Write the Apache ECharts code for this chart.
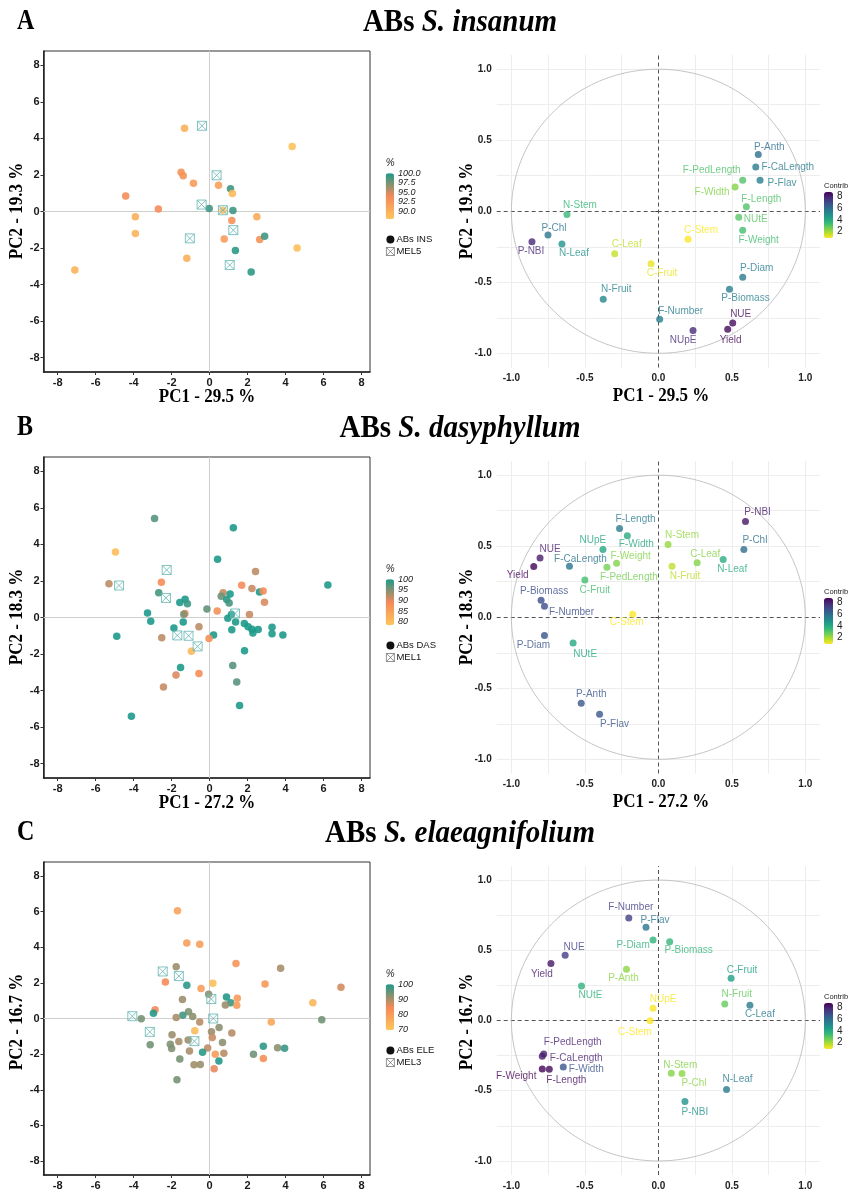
<!DOCTYPE html>
<html><head><meta charset="utf-8">
<script src="https://cdn.jsdelivr.net/npm/echarts@6/dist/echarts.min.js"></script>
<style>html,body{margin:0;padding:0;background:#fff}#c{width:848px;height:1191px}</style>
</head><body><div id="c"></div><script>
// ================= DATA =================
// Panel A — S. insanum individuals (PC1, PC2, %)
const insPC1 = [-1.32, 4.35, -1.50, -1.39, -0.85, 0.47, 1.10, 1.20, -4.42, -2.70,
                -0.02, 0.70, 1.23, -3.91, 2.49, 1.17, -3.91, 0.77, 2.64, 2.90,
                4.61, 1.36, -1.20, 2.19, -7.10];
const insPC2 = [4.56, 3.55, 2.15, 1.96, 1.55, 1.44, 1.25, 0.98, 0.85, 0.13,
                0.16, 0.07, 0.05, -0.29, -0.29, -0.49, -1.20, -1.51, -1.53, -1.36,
                -2.00, -2.13, -2.56, -3.31, -3.20];
const insPct = [90, 88.2, 93, 93, 92, 91.5, 99, 89, 93.5, 93.5,
                99, 89, 99, 90, 90.5, 93, 89.5, 92, 93, 99,
                88.5, 99.5, 90, 99.5, 89.5];
const mel5PC1 = [-0.40, 0.37, -0.42, 0.70, 1.25, -1.04, 1.06];
const mel5PC2 = [4.69, 1.98, 0.38, 0.07, -1.02, -1.47, -2.93];

// Panel B — S. dasyphyllum individuals
const dasPC1 = [-2.90, 1.25, -4.96, 0.42, 2.42, -5.30, -2.54, 1.69, 2.23, 6.23,
                -2.68, 0.71, 1.08, 2.63, 2.82, 2.89, 0.61, 0.90, 1.03, -1.57,
                -1.29, -1.17, -0.14, -3.27, -1.30, -1.36, 0.40, 2.10, 1.15, 0.96,
                -3.10, -1.39, 1.37, 1.83, 2.03, 2.23, 2.56, 2.28, 3.29, 3.29,
                3.86, 1.17, -1.88, -0.56, 0.21, -0.03, -2.52, -4.89, -0.96, 1.84,
                -1.53, 1.22, -1.77, -0.56, 1.43, -2.43, 1.58, -4.12];
const dasPC2 = [5.42, 4.91, 3.58, 3.18, 2.51, 1.85, 1.93, 1.76, 1.58, 1.78,
                1.36, 1.36, 1.29, 1.40, 1.45, 0.84, 1.16, 0.98, 0.80, 0.82,
                1.00, 0.75, 0.47, 0.24, 0.22, 0.18, 0.35, 0.16, 0.16, -0.04,
                -0.20, -0.24, -0.24, -0.33, -0.51, -0.64, -0.65, -0.85, -0.53, -0.89,
                -0.96, -0.67, -0.58, -0.51, -0.96, -1.15, -1.11, -1.02, -1.85, -1.82,
                -2.73, -2.62, -3.15, -3.07, -3.53, -3.80, -4.82, -5.40];
const dasPct = [97, 100, 80, 100, 92, 92, 88.5, 88.5, 91.5, 100,
                98, 91.5, 100, 100, 88.5, 90.5, 96, 99.5, 98, 100,
                100, 98.5, 96.5, 100, 88.5, 95, 88, 91.5, 100, 100,
                100, 100, 100, 100, 100, 100, 100, 100, 100, 100,
                100, 100, 100, 92, 100, 88, 92, 100, 80.5, 100,
                100, 97, 90.5, 88.5, 97, 91.5, 100, 100];
const mel1PC1 = [-2.26, -4.77, -2.30, 1.34, -1.70, -1.11, -0.63];
const mel1PC2 = [2.60, 1.75, 1.07, 0.22, -0.98, -1.00, -1.58];

// Panel C — S. elaeagnifolium individuals
const elePC1 = [-1.69, -1.20, -0.52, 1.39, -1.76, 3.74, -2.33, -1.20, 0.17, -0.45,
                2.92, 6.92, -0.05, 0.89, -1.43, 1.11, 0.83, 1.46, 1.43, 5.44,
                -2.87, -2.96, -1.11, -1.41, -0.89, -1.76, -3.60, -0.52, 5.91, 3.25,
                -0.78, 0.10, 0.50, 1.17, 0.14, -1.98, -1.62, -1.13, -2.07, 0.68,
                -3.13, -2.00, -1.06, -0.10, -0.37, 0.75, 0.30, 2.83, 3.58, 3.95,
                2.31, 2.83, -1.57, 0.49, -0.82, -0.49, 0.24, -1.72];
const elePC2 = [6.04, 4.24, 4.16, 3.09, 2.91, 2.82, 2.05, 1.87, 1.98, 1.69,
                1.93, 1.76, 1.36, 1.20, 1.07, 0.89, 0.76, 1.13, 0.75, 0.89,
                0.49, 0.29, 0.38, 0.18, 0.11, 0.05, -0.02, -0.20, -0.07, -0.20,
                -0.69, -0.75, -0.51, -0.82, -1.07, -0.91, -1.29, -1.20, -1.44, -1.35,
                -1.47, -1.69, -1.82, -1.65, -1.89, -1.95, -2.00, -1.56, -1.64, -1.67,
                -2.00, -2.25, -2.27, -2.38, -2.60, -2.58, -2.82, -3.44];
const elePct = [78, 79, 79, 82, 91, 90, 84, 99, 71, 79,
                81, 87, 92, 99.5, 91, 98, 91, 80, 80, 73,
                84, 99.5, 93, 97.5, 92, 90, 93.5, 89, 94, 77,
                72, 91, 92, 89, 88, 91, 90, 91, 93, 92,
                94, 93, 90, 88.5, 99, 89, 80, 99, 92, 98,
                94, 83, 93.5, 99.5, 90.5, 91, 85.5, 93.5];
const mel3PC1 = [-2.47, -1.62, 0.09, -4.07, 0.19, -3.15, -0.80];
const mel3PC2 = [2.64, 2.38, 1.09, 0.13, 0.00, -0.75, -1.27];

// Variables (correlation circles)
const varsA = ["P-Anth","F-CaLength","P-Flav","F-PedLength","F-Width","F-Length","NUtE","F-Weight","C-Stem","N-Stem","P-Chl",
               "P-NBI","N-Leaf","C-Leaf","C-Fruit","P-Diam","P-Biomass","N-Fruit","F-Number","NUpE","NUE","Yield"];
const varPC1A = [0.680, 0.663, 0.692, 0.574, 0.522, 0.599, 0.547, 0.574, 0.202, -0.622, -0.751,
                 -0.860, -0.656, -0.297, -0.050, 0.574, 0.484, -0.375, 0.009, 0.236, 0.506, 0.472];
const varPC2A = [0.400, 0.312, 0.218, 0.218, 0.171, 0.031, -0.042, -0.134, -0.197, -0.023, -0.167,
                 -0.214, -0.230, -0.300, -0.369, -0.465, -0.549, -0.620, -0.760, -0.840, -0.786, -0.831];
const contribA = [5.9, 5.5, 5.3, 3.1, 2.4, 3.1, 3.0, 3.3, 0.9, 3.5, 5.7,
                  7.8, 4.7, 1.6, 1.2, 5.5, 5.3, 5.1, 5.4, 7.7, 8.4, 8.5];

const varsB = ["P-NBI","P-Chl","N-Leaf","C-Leaf","N-Fruit","N-Stem","F-Length","F-Width","NUpE","F-Weight","F-PedLength",
               "F-CaLength","C-Fruit","NUE","Yield","P-Biomass","F-Number","C-Stem","P-Diam","NUtE","P-Anth","P-Flav"];
const varPC1B = [0.593, 0.582, 0.441, 0.264, 0.093, 0.066, -0.264, -0.211, -0.377, -0.284, -0.350,
                 -0.605, -0.500, -0.805, -0.848, -0.798, -0.775, -0.175, -0.775, -0.580, -0.525, -0.400];
const varPC2B = [0.674, 0.477, 0.406, 0.383, 0.359, 0.512, 0.624, 0.573, 0.477, 0.380, 0.352,
                 0.359, 0.263, 0.418, 0.357, 0.120, 0.077, 0.021, -0.129, -0.181, -0.606, -0.683];
const contribB = [8.2, 5.9, 3.9, 2.4, 1.7, 2.2, 5.5, 4.0, 4.1, 2.4, 2.6,
                  5.7, 3.3, 8.1, 8.6, 6.8, 6.8, 0.9, 6.7, 4.1, 6.6, 6.6];

const varsC = ["F-Number","P-Flav","P-Diam","P-Biomass","NUE","Yield","P-Anth","NUtE","C-Fruit","N-Fruit","C-Leaf",
               "NUpE","C-Stem","F-PedLength","F-CaLength","F-Weight","F-Length","F-Width","N-Stem","P-Chl","N-Leaf","P-NBI"];
const varPC1C = [-0.201, -0.084, -0.036, 0.077, -0.634, -0.731, -0.217, -0.523, 0.495, 0.452, 0.623,
                 -0.036, -0.057, -0.780, -0.790, -0.790, -0.742, -0.647, 0.088, 0.161, 0.464, 0.181];
const varPC2C = [0.730, 0.664, 0.573, 0.561, 0.465, 0.406, 0.364, 0.246, 0.300, 0.117, 0.108,
                 0.087, -0.002, -0.239, -0.254, -0.345, -0.347, -0.331, -0.376, -0.378, -0.491, -0.577];
const contribC = [7.2, 5.7, 3.7, 3.6, 7.2, 8.2, 2.3, 3.7, 4.3, 2.8, 5.5,
                  1.0, 0.9, 8.0, 8.0, 8.6, 8.4, 6.6, 2.4, 2.3, 5.5, 4.7];

// Tick labels
const indTicks = [-8, -6, -4, -2, 0, 2, 4, 6, 8];
const varTicks = [-1, -0.5, 0, 0.5, 1];
const pctTicksA = [100, 97.5, 95, 92.5, 90];
const pctTicksB = [100, 95, 90, 85, 80];
const pctTicksC = [100, 90, 80, 70];
const contribTicks = [8, 6, 4, 2];

// ================= LAYOUT / STYLE (not data) =================
const nudgeA = {"P-Anth":[11,-7],"F-CaLength":[32,0],"P-Flav":[22,3],"F-PedLength":[-31,-10],"F-Width":[-23,5],
  "F-Length":[15,-8],"NUtE":[17,2],"F-Weight":[16,10],"C-Stem":[13,-9],"N-Stem":[13,-9],"P-Chl":[6,-7],
  "P-NBI":[-1,10],"N-Leaf":[12,9],"C-Leaf":[12,-10],"C-Fruit":[11,10],"P-Diam":[14,-9],"P-Biomass":[16,9],
  "N-Fruit":[13,-10],"F-Number":[21,-8],"NUpE":[-10,10],"NUE":[8,-9],"Yield":[3,11]};
const nudgeB = {"P-NBI":[12,-9],"P-Chl":[11,-9],"N-Leaf":[9,10],"C-Leaf":[8,-9],"N-Fruit":[13,10],"N-Stem":[14,-9],
  "F-Length":[16,-9],"F-Width":[9,8],"NUpE":[-10,-9],"F-Weight":[14,-7],"F-PedLength":[22,10],"F-CaLength":[11,-7],
  "C-Fruit":[10,10],"NUE":[10,-9],"Yield":[-16,9],"P-Biomass":[3,-9],"F-Number":[27,6],"C-Stem":[-6,8],
  "P-Diam":[-11,10],"NUtE":[12,11],"P-Anth":[10,-9],"P-Flav":[15,10]};
const nudgeC = {"F-Number":[2,-11],"P-Flav":[9,-7],"P-Diam":[-20,5],"P-Biomass":[19,9],"NUE":[9,-8],"Yield":[-9,11],
  "P-Anth":[-3,9],"NUtE":[9,9],"C-Fruit":[11,-8],"N-Fruit":[12,-10],"C-Leaf":[10,9],"NUpE":[10,-9],"C-Stem":[-15,11],
  "F-PedLength":[29,-12],"F-CaLength":[34,2],"F-Weight":[-26,7],"F-Length":[17,11],"F-Width":[23,2],"N-Stem":[9,-8],
  "P-Chl":[12,10],"N-Leaf":[11,-10],"P-NBI":[10,11]};

const panels = [
  {letter:'A', sp:'S. insanum', pc1:'29.5', pc2:'19.3', abs:'ABs INS', mel:'MEL5',
   ix:insPC1, iy:insPC2, ip:insPct, mx:mel5PC1, my:mel5PC2, pmin:87.8, pmax:100, pt:pctTicksA, pd:1,
   vn:varsA, vx:varPC1A, vy:varPC2A, vc:contribA, nudge:nudgeA, xt:true},
  {letter:'B', sp:'S. dasyphyllum', pc1:'27.2', pc2:'18.3', abs:'ABs DAS', mel:'MEL1',
   ix:dasPC1, iy:dasPC2, ip:dasPct, mx:mel1PC1, my:mel1PC2, pmin:78.4, pmax:100, pt:pctTicksB, pd:0,
   vn:varsB, vx:varPC1B, vy:varPC2B, vc:contribB, nudge:nudgeB, xt:true},
  {letter:'C', sp:'S. elaeagnifolium', pc1:'', pc2:'16.7', abs:'ABs ELE', mel:'MEL3',
   ix:elePC1, iy:elePC2, ip:elePct, mx:mel3PC1, my:mel3PC2, pmin:69.3, pmax:100, pt:pctTicksC, pd:0,
   vn:varsC, vx:varPC1C, vy:varPC2C, vc:contribC, nudge:nudgeC, xt:false}
];
const offs = [0, 406, 811];
const LG = {left:43.5, top:51, width:326.5, height:321};
const RG = {left:496.7, top:55, width:323.3, height:312.5};
const pctColors = ['#fdc65c', '#f4895a', '#1d9a8a'];
const viridisLowToHigh = ['#fde725','#b5de2b','#6ece58','#35b779','#1f9e89','#26828e','#31688e','#3e4989','#482878','#440154'];
const cMin = 0.94, cMax = 8.67;
const melIcon = 'path://M0,0L10,0L10,10L0,10ZM0,0L10,10M10,0L0,10';
const serif = '"Liberation Serif", "DejaVu Serif", serif';
const sans = '"Liberation Sans", Arial, sans-serif';

const grid = [], xAxis = [], yAxis = [], series = [], visualMap = [], legend = [], graphic = [];
const varSeriesIdx = [];

const circle = [];
for (let i = 0; i <= 240; i++) { const a = i / 240 * 2 * Math.PI; circle.push([Math.cos(a), Math.sin(a)]); }
const gridVals = [-1, -0.75, -0.5, -0.25, 0.25, 0.5, 0.75, 1];

function txt(x, y, text, font, opts) {
  return Object.assign({type:'text', x:x, y:y, silent:true,
    style:Object.assign({text:text, font:font, fill:'#000', align:'center', verticalAlign:'middle'}, (opts && opts.style) || {})},
    (opts && opts.el) || {});
}

panels.forEach((P, p) => {
  const o = offs[p];
  const gL = 2 * p, gR = 2 * p + 1;
  grid.push({left:LG.left, top:LG.top + o, width:LG.width, height:LG.height, show:true,
             borderColor:'#333', borderWidth:1, backgroundColor:'#fff'});
  grid.push({left:RG.left, top:RG.top + o, width:RG.width, height:RG.height, show:false});
  const lblL = {customValues:indTicks, fontSize:11, fontWeight:'bold', color:'#1a1a1a', fontFamily:sans, margin:5};
  xAxis.push({gridIndex:gL, type:'value', min:-8.75, max:8.45,
    axisLine:{show:true, onZero:false, lineStyle:{color:'#222', width:1.5}},
    axisTick:{show:true, customValues:indTicks, length:3, lineStyle:{color:'#333'}},
    axisLabel:lblL, splitLine:{show:false}});
  yAxis.push({gridIndex:gL, type:'value', min:-8.78, max:8.78,
    axisLine:{show:true, onZero:false, lineStyle:{color:'#222', width:1.5}},
    axisTick:{show:true, customValues:indTicks, length:3, lineStyle:{color:'#333'}},
    axisLabel:Object.assign({}, lblL, {margin:4}), splitLine:{show:false}});
  const lblR = {customValues:varTicks, fontSize:10, fontWeight:'bold', color:'#222', fontFamily:sans, margin:6,
                formatter:v => Number(v).toFixed(1)};
  xAxis.push({gridIndex:gR, type:'value', min:-1.1, max:1.1, axisLine:{show:false},
    axisTick:{show:false}, axisLabel:lblR, splitLine:{show:false}});
  yAxis.push({gridIndex:gR, type:'value', min:-1.1, max:1.1, axisLine:{show:false},
    axisTick:{show:true, customValues:varTicks, length:3, lineStyle:{color:'#333'}},
    axisLabel:Object.assign({}, lblR, {margin:5}), splitLine:{show:false}});

  // individuals
  const absIdx = series.length;
  series.push({type:'scatter', name:P.abs, xAxisIndex:gL, yAxisIndex:gL, z:3, silent:true,
    symbol:'circle', symbolSize:7.5, itemStyle:{opacity:0.9},
    data:P.ix.map((x, i) => [x, P.iy[i], P.ip[i]]),
    markLine:{silent:true, symbol:'none', z:1, label:{show:false},
      lineStyle:{color:'#cfcfcf', width:1, type:'solid'}, data:[{xAxis:0}, {yAxis:0}]}});
  series.push({type:'scatter', name:P.mel, xAxisIndex:gL, yAxisIndex:gL, z:4, silent:true,
    symbol:melIcon, symbolSize:9,
    itemStyle:{color:'rgba(255,255,255,0.15)', borderColor:'#63b5b2', borderWidth:1},
    data:P.mx.map((x, i) => [x, P.my[i]])});
  visualMap.push({type:'continuous', seriesIndex:absIdx, dimension:2, min:P.pmin, max:P.pmax,
    calculable:false, realtime:false, hoverLink:false, left:385.7, top:173.3 + o, itemWidth:8.3, itemHeight:46,
    padding:0, text:null, showLabel:false, inRange:{color:pctColors}});
  legend.push({orient:'vertical', left:386, top:234.5 + o, itemWidth:8, itemHeight:8, itemGap:2, padding:0,
    selectedMode:false, textStyle:{fontSize:9.5, fontFamily:sans, color:'#111', padding:[0,0,0,-3]},
    data:[{name:P.abs, icon:'circle', itemStyle:{color:'#111', opacity:1}},
          {name:P.mel, icon:melIcon, itemStyle:{color:'rgba(0,0,0,0)', borderColor:'#555', borderWidth:0.8}}]});
  graphic.push(txt(385.7, 163 + o, '%', 'italic 10px ' + sans, {style:{align:'left', fill:'#222'}}));
  P.pt.forEach(v => {
    const y = 173.3 + o + (P.pmax - v) / (P.pmax - P.pmin) * 46;
    graphic.push(txt(398, y, v.toFixed(P.pd), 'italic 9px ' + sans, {style:{align:'left', fill:'#222'}}));
  });

  // variables
  const gl = gridVals.map(v => ({xAxis:v})).concat(gridVals.map(v => ({yAxis:v})));
  const zl = [{xAxis:0, lineStyle:{color:'#555', width:1, type:[4, 3]}},
              {yAxis:0, lineStyle:{color:'#555', width:1, type:[4, 3]}}];
  series.push({type:'line', xAxisIndex:gR, yAxisIndex:gR, data:circle, showSymbol:false, silent:true, z:2,
    lineStyle:{color:'#bdbdbd', width:0.9}, animation:false,
    markLine:{silent:true, symbol:'none', z:1, label:{show:false}, animation:false,
      lineStyle:{color:'#ededed', width:1, type:'solid'}, data:gl.concat(zl)}});
  const varIdx = series.length;
  varSeriesIdx.push(varIdx);
  series.push({type:'scatter', xAxisIndex:gR, yAxisIndex:gR, z:3, silent:true, symbolSize:7,
    label:{show:true, position:'top', distance:0, formatter:'{b}', fontSize:10, lineHeight:12, fontFamily:sans,
           color:'inherit'},
    data:P.vn.map((n, i) => ({name:n, value:[P.vx[i], P.vy[i], P.vc[i]],
      label:{offset:[P.nudge[n][0], P.nudge[n][1] + 9.5]}}))});
  visualMap.push({type:'continuous', seriesIndex:varIdx, dimension:2, min:cMin, max:cMax,
    calculable:false, realtime:false, hoverLink:false, left:824, top:192 + o, itemWidth:9, itemHeight:46,
    padding:0, text:null, showLabel:false, inRange:{color:viridisLowToHigh}});
  graphic.push(txt(824, 186 + o, 'Contrib', '7.5px ' + sans, {style:{align:'left', fill:'#222'}}));
  contribTicks.forEach(v => {
    const y = 192 + o + (cMax - v) / (cMax - cMin) * 46;
    graphic.push(txt(837, y, String(v), '10px ' + sans, {style:{align:'left', fill:'#222'}}));
  });

  // titles
  graphic.push(txt(17, 21 + o, P.letter, 'bold 24px ' + serif, {style:{align:'left'}, el:{scaleY:1.25}}));
  graphic.push({type:'text', x:460, y:23 + o, silent:true, scaleY:1.12,
    style:{text:'{a|ABs }{b|' + P.sp + '}', align:'center', verticalAlign:'middle',
      rich:{a:{font:'bold 29px ' + serif, fill:'#000'}, b:{font:'italic bold 29px ' + serif, fill:'#000'}}}});
  graphic.push(txt(17, 211 + o, 'PC2 - ' + P.pc2 + ' %', 'bold 17px ' + serif, {el:{rotation:Math.PI / 2, scaleY:1.12}}));
  graphic.push(txt(467, 211 + o, 'PC2 - ' + P.pc2 + ' %', 'bold 17px ' + serif, {el:{rotation:Math.PI / 2, scaleY:1.12}}));
  if (P.xt) {
    graphic.push(txt(207, 397 + o, 'PC1 - ' + P.pc1 + ' %', 'bold 17px ' + serif, {el:{scaleY:1.1}}));
    graphic.push(txt(661, 396 + o, 'PC1 - ' + P.pc1 + ' %', 'bold 17px ' + serif, {el:{scaleY:1.1}}));
  }
});

const chart = echarts.init(document.getElementById('c'), null, {renderer:'canvas', width:848, height:1191});
chart.setOption({backgroundColor:'#fff', animation:false, grid, xAxis, yAxis, series, visualMap, legend, graphic});
</script></body></html>
